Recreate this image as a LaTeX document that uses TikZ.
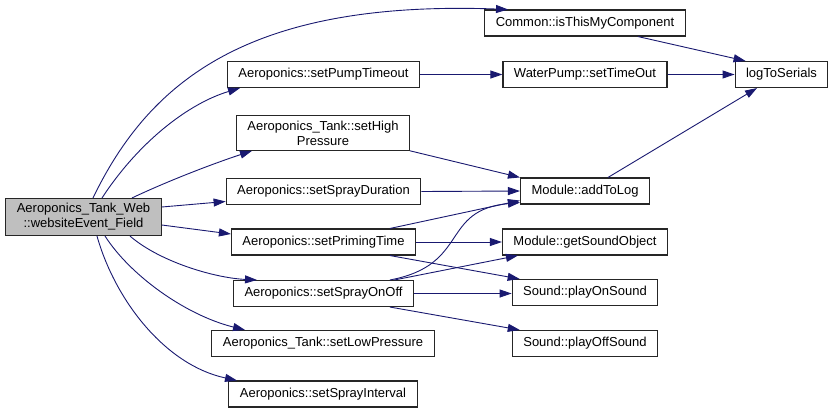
\documentclass[tikz,border=0pt]{standalone}
\usepackage{fontspec}
\setmainfont{Liberation Sans}
\usetikzlibrary{arrows.meta,positioning}
\definecolor{midblue}{RGB}{25,25,112}
\definecolor{fngray}{RGB}{191,191,191}
\tikzset{
  fn/.style={draw=black!85, line width=1.1pt, fill=white, minimum height=26pt,
    inner xsep=11pt, inner ysep=5pt, align=center,
    font=\fontsize{13}{15}\selectfont},
  call/.style={midblue, line width=0.9pt, -{Triangle[length=12pt,width=8pt]}}
}
\begin{document}
\begin{tikzpicture}[x=1pt,y=-1pt]
        \useasboundingbox (0,0) rectangle (835,413);
        % Caller
        \node[fn, fill=fngray] (main) at (83.5,217) {Aeroponics\_Tank\_Web\\::websiteEvent\_Field};
        % Direct callees
        \node[fn] (pump) at (323.5,74.5) {Aeroponics::setPumpTimeout};
        \node[fn] (high) at (323,133) {Aeroponics\_Tank::setHigh\\Pressure};
        \node[fn] (duration) at (323.5,191.5) {Aeroponics::setSprayDuration};
        \node[fn] (priming) at (323.5,242) {Aeroponics::setPrimingTime};
        \node[fn] (onoff) at (323.5,293.5) {Aeroponics::setSprayOnOff};
        \node[fn] (lowp) at (323,343.5) {Aeroponics\_Tank::setLowPressure};
        \node[fn] (interval) at (323,394) {Aeroponics::setSprayInterval};
        % Second level
        \node[fn] (common) at (585,23) {Common::isThisMyComponent};
        \node[fn] (water) at (585,74.5) {WaterPump::setTimeOut};
        \node[fn] (add) at (585,191) {Module::addToLog};
        \node[fn] (getsound) at (585,242) {Module::getSoundObject};
        \node[fn] (playon) at (585,292.5) {Sound::playOnSound};
        \node[fn] (playoff) at (585,343.5) {Sound::playOffSound};
        \node[fn] (log) at (781.5,74.5) {logToSerials};
        % Calls from the caller
        \draw[call] ([xshift=9.5]main.north) .. controls (150,80) and (250,0) .. ([xshift=-77]common.north);
        \draw[call] ([xshift=18.5]main.north) .. controls (140,140) and (190,103) .. ([xshift=-83.5]pump.south);
        \draw[call] ([xshift=48.5]main.north) .. controls (170,180) and (215,163) .. ([xshift=-71]high.south);
        \draw[call] ([yshift=10]main.east) -- ([yshift=-10]duration.west);
        \draw[call] ([yshift=-8]main.east) -- ([yshift=8]priming.west);
        \draw[call] ([xshift=46.5]main.south) .. controls (160,262) and (215,278) .. ([xshift=-66.5]onoff.north);
        \draw[call] ([xshift=21.5]main.south) .. controls (130,275) and (185,315) .. ([xshift=-78]lowp.north);
        \draw[call] ([xshift=13.5]main.south) .. controls (115,300) and (165,365) .. ([xshift=-86]interval.north);
        % Calls further down
        \draw[call] (pump.east) -- (water.west);
        \draw[call] (water.east) -- (log.west);
        \draw[call] ([xshift=53]common.south) -- ([xshift=11]log.north west);
        \draw[call] ([xshift=23]add.north) -- ([xshift=-24.5]log.south);
        \draw[call] (high.south east) -- (add.north west);
        \draw[call] (duration.east) -- (add.west);
        \draw[call] ([xshift=66.5]priming.north) -- ([yshift=4]add.south west);
        \draw[call] ([xshift=66.5]onoff.north) .. controls (470,265) and (440,210) .. ([yshift=2]add.south west);
        \draw[call] (priming.east) -- (getsound.west);
        \draw[call] ([xshift=66.5]priming.south) -- ([xshift=8]playon.north west);
        \draw[call] ([xshift=71]onoff.north) -- ([xshift=16]getsound.south west);
        \draw[call] (onoff.east) -- (onoff.east -| playon.west);
        \draw[call] ([xshift=66.5]onoff.south) -- ([xshift=8]playoff.north west);
      \end{tikzpicture}
\end{document}
